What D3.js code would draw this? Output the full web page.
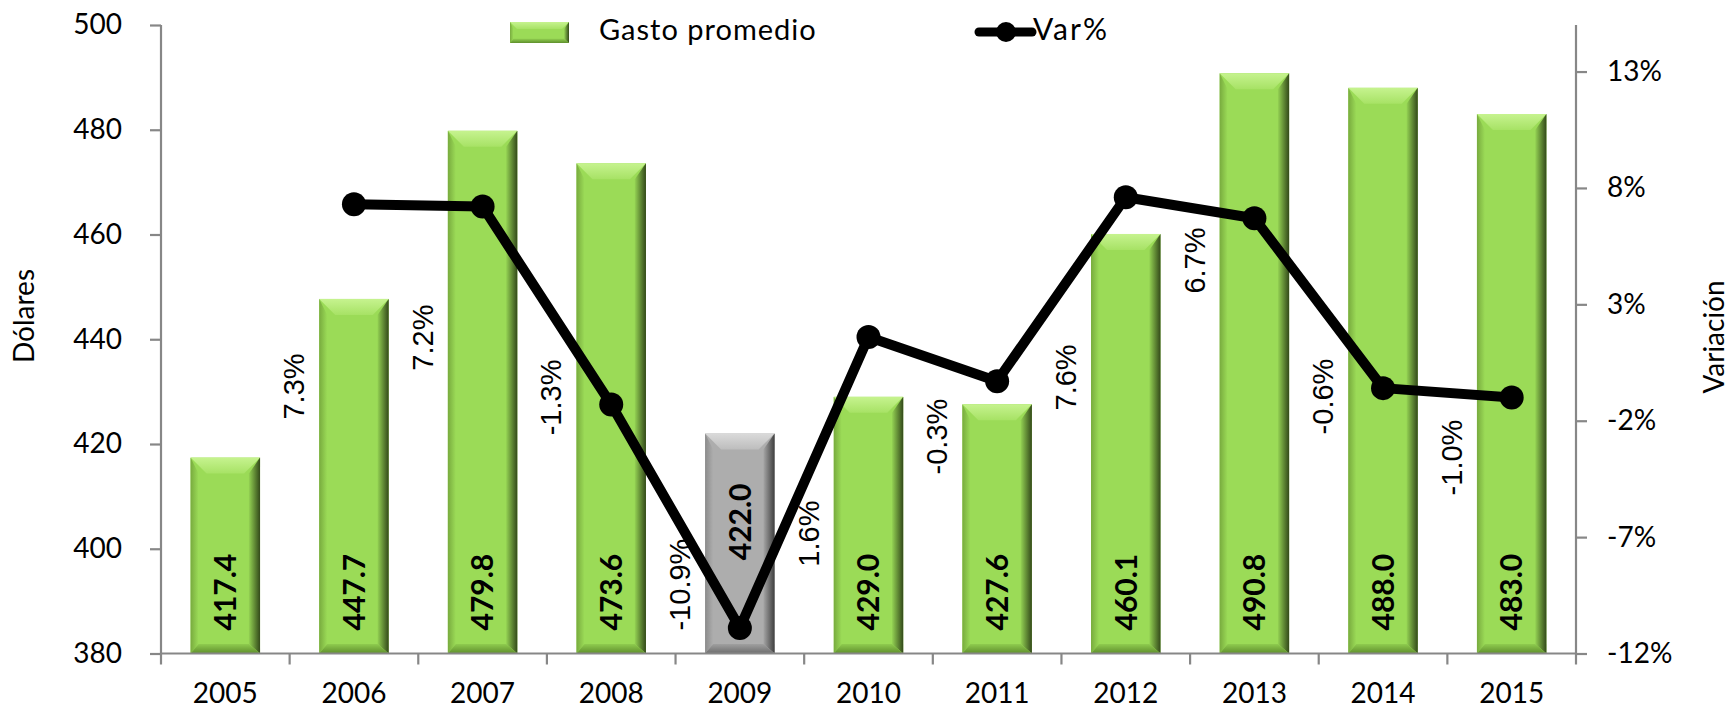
<!DOCTYPE html>
<html>
<head>
<meta charset="utf-8">
<script src="https://cdn.jsdelivr.net/npm/d3@7/dist/d3.min.js"></script>
<style>
  html, body { margin: 0; padding: 0; background: #ffffff; }
  svg { display: block; }
</style>
</head>
<body>
<svg id="chart" width="1733" height="711"></svg>
<script>
// ---------- data ----------
const years = ["2005","2006","2007","2008","2009","2010","2011","2012","2013","2014","2015"];
const gasto = [417.4, 447.7, 479.8, 473.6, 422.0, 429.0, 427.6, 460.1, 490.8, 488.0, 483.0];
const variacion = [null, 7.3, 7.2, -1.3, -10.9, 1.6, -0.3, 7.6, 6.7, -0.6, -1.0];
const leftTicks = [380, 400, 420, 440, 460, 480, 500];
const rightTicks = [-12, -7, -2, 3, 8, 13];
const highlightYear = "2009";
const seriesNames = ["Gasto promedio", "Var%"];
const axisTitles = ["Dólares", "Variación"];
// where the (manually placed) labels sit, in axis units
const varLabelAnchor = [null, -0.53, 1.57, -1.0, -9.04, -6.85, -2.68, -0.14, 4.88, -0.96, -3.58];
const valueLabelBase = [384.4, 384.4, 384.4, 384.4, 397.8, 384.4, 384.4, 384.4, 384.4, 384.4, 384.4];

// ---------- layout ----------
const svg = d3.select("#chart");
const plot = { left: 161, right: 1576, top: 25, bottom: 653.5 };
const FONT = "Lato, 'Open Sans', sans-serif";
const AXIS_COLOR = "#878787";

const x = d3.scaleBand().domain(years).range([plot.left, plot.right])
  .paddingInner(0.46).paddingOuter(0.23);
const yL = d3.scaleLinear().domain([380, 500]).range([plot.bottom, plot.top]);
const yR = d3.scaleLinear().domain([-12, 15]).range([plot.bottom, plot.top]);
const step = x.step();
const gap = step - x.bandwidth();

// ---------- gradients ----------
const defs = svg.append("defs");
function lin(id, x1, y1, x2, y2, stops) {
  const g = defs.append("linearGradient").attr("id", id)
    .attr("x1", x1).attr("y1", y1).attr("x2", x2).attr("y2", y2);
  stops.forEach(s => g.append("stop").attr("offset", s[0]).attr("stop-color", s[1]));
}
const palettes = {
  green: { base: "#9bdb57", top: ["#c6f38f", "#a7e265"], left: ["#78ab3e", "#9bdb57"],
           right: ["#94d253", "#33491a"], bottom: ["#8fcc4f", "#5f8f2c"] },
  grey:  { base: "#adadad", top: ["#dadada", "#bdbdbd"], left: ["#8b8b8b", "#adadad"],
           right: ["#a6a6a6", "#3f3f3f"], bottom: ["#a0a0a0", "#6d6d6d"] }
};
Object.entries(palettes).forEach(([k, p]) => {
  lin(k + "-top", 0, 0, 0, 1, [[0, p.top[0]], [1, p.top[1]]]);
  lin(k + "-left", 0, 0, 1, 0, [[0, p.left[0]], [1, p.left[1]]]);
  lin(k + "-right", 0, 0, 1, 0, [[0, p.right[0]], [1, p.right[1]]]);
  lin(k + "-bottom", 0, 0, 0, 1, [[0, p.bottom[0]], [1, p.bottom[1]]]);
});

function bevelRect(g, x0, y0, w, h, b, key) {
  const p = palettes[key];
  const x1 = x0 + w, y1 = y0 + h;
  const bb = Math.min(b, w / 2, h / 2);
  g.append("rect").attr("x", x0).attr("y", y0).attr("width", w).attr("height", h).attr("fill", p.base);
  const poly = (pts, fill) => g.append("polygon")
    .attr("points", pts.map(d => d.join(",")).join(" ")).attr("fill", fill);
  poly([[x0, y0], [x1, y0], [x1 - bb, y0 + bb], [x0 + bb, y0 + bb]], `url(#${key}-top)`);
  poly([[x0, y0], [x0 + bb * 0.5, y0 + bb], [x0 + bb * 0.5, y1 - bb * 0.6], [x0, y1]], `url(#${key}-left)`);
  poly([[x1, y0], [x1, y1], [x1 - bb * 0.7, y1 - bb * 0.6], [x1 - bb * 0.7, y0 + bb]], `url(#${key}-right)`);
  poly([[x0, y1], [x0 + bb * 0.5, y1 - bb * 0.6], [x1 - bb * 0.7, y1 - bb * 0.6], [x1, y1]], `url(#${key}-bottom)`);
}

// ---------- bars ----------
const barsG = svg.append("g");
years.forEach((yr, i) => {
  const top = yL(gasto[i]);
  bevelRect(barsG, x(yr), top, x.bandwidth(), plot.bottom - top, 16, yr === highlightYear ? "grey" : "green");
});

// value labels inside bars
svg.append("g").selectAll("text").data(years).join("text")
  .attr("transform", (d, i) => `translate(${x(d) + x.bandwidth() / 2},${yL(valueLabelBase[i])}) rotate(-90)`)
  .attr("dy", "0.36em")
  .attr("text-anchor", "start")
  .attr("font-family", FONT).attr("font-weight", 700).attr("font-size", 30)
  .attr("fill", "#000")
  .text((d, i) => gasto[i].toFixed(1));

// ---------- axes ----------
const axL = svg.append("g").attr("transform", `translate(${plot.left},0)`)
  .call(d3.axisLeft(yL).tickValues(leftTicks).tickSize(11).tickSizeOuter(0).tickPadding(28));
const axR = svg.append("g").attr("transform", `translate(${plot.right},0)`)
  .call(d3.axisRight(yR).tickValues(rightTicks).tickFormat(d => d + "%").tickSize(11).tickSizeOuter(0).tickPadding(20));
const axB = svg.append("g").attr("transform", `translate(0,${plot.bottom})`)
  .call(d3.axisBottom(x).tickSize(0).tickSizeOuter(0).tickPadding(30));
[axL, axR, axB].forEach(a => {
  a.select(".domain").attr("stroke", AXIS_COLOR).attr("stroke-width", 2.2);
  a.selectAll(".tick line").attr("stroke", AXIS_COLOR).attr("stroke-width", 2.2);
  a.selectAll("text").attr("font-family", FONT).attr("font-size", 28).attr("fill", "#000");
});
axL.select(".domain").attr("d", `M0,${plot.top}V${plot.bottom}`);
axR.select(".domain").attr("d", `M0,${plot.top}V${plot.bottom}`);
axB.select(".domain").attr("d", `M${plot.left},0H${plot.right}`);
// category boundary ticks
const boundaries = years.map(d => x(d) - gap / 2).concat([x(years[years.length - 1]) + x.bandwidth() + gap / 2]);
axB.selectAll("line.bnd").data(boundaries).join("line").attr("class", "bnd")
  .attr("x1", d => d).attr("x2", d => d).attr("y1", 0).attr("y2", 11)
  .attr("stroke", AXIS_COLOR).attr("stroke-width", 2.2);

// axis titles
svg.append("text")
  .attr("transform", `translate(24,316) rotate(-90)`)
  .attr("text-anchor", "middle").attr("dy", "0.35em")
  .attr("font-family", FONT).attr("font-size", 28).attr("fill", "#000")
  .text(axisTitles[0]);
svg.append("text")
  .attr("transform", `translate(1714,337) rotate(-90)`)
  .attr("text-anchor", "middle").attr("dy", "0.35em")
  .attr("font-family", FONT).attr("font-size", 28).attr("fill", "#000")
  .text(axisTitles[1]);

// ---------- variation labels ----------
const varIdx = years.map((d, i) => i).filter(i => variacion[i] !== null);
svg.append("g").selectAll("text").data(varIdx).join("text")
  .attr("transform", i => `translate(${x(years[i]) - gap / 2 + 4},${yR(varLabelAnchor[i])}) rotate(-90)`)
  .attr("text-anchor", "middle").attr("dy", "0.36em")
  .attr("font-family", "'Liberation Sans', Arial, sans-serif").attr("font-size", 29)
  .attr("fill", "#000")
  .text(i => variacion[i].toFixed(1) + "%");

// ---------- line ----------
const cx = d => x(d) + x.bandwidth() / 2;
const line = d3.line().defined(i => variacion[i] !== null)
  .x(i => cx(years[i])).y(i => yR(variacion[i]));
svg.append("path").datum(years.map((d, i) => i))
  .attr("d", line).attr("fill", "none").attr("stroke", "#000")
  .attr("stroke-width", 10).attr("stroke-linejoin", "round");
svg.append("g").selectAll("circle").data(varIdx).join("circle")
  .attr("cx", i => cx(years[i])).attr("cy", i => yR(variacion[i]))
  .attr("r", 12).attr("fill", "#000");

// ---------- legend ----------
const lg = svg.append("g");
bevelRect(lg, 510, 22, 59, 21, 7, "green");
lg.append("text").attr("x", 599).attr("y", 40)
  .attr("font-family", FONT).attr("font-size", 29).attr("letter-spacing", 1)
  .attr("fill", "#000").text(seriesNames[0]);
lg.append("line").attr("x1", 979).attr("x2", 1032).attr("y1", 32).attr("y2", 32)
  .attr("stroke", "#000").attr("stroke-width", 9).attr("stroke-linecap", "round");
lg.append("circle").attr("cx", 1006).attr("cy", 32).attr("r", 10).attr("fill", "#000");
lg.append("text").attr("x", 1033).attr("y", 40)
  .attr("font-family", FONT).attr("font-size", 30).attr("letter-spacing", 2)
  .attr("fill", "#000").text(seriesNames[1]);
</script>
</body>
</html>
